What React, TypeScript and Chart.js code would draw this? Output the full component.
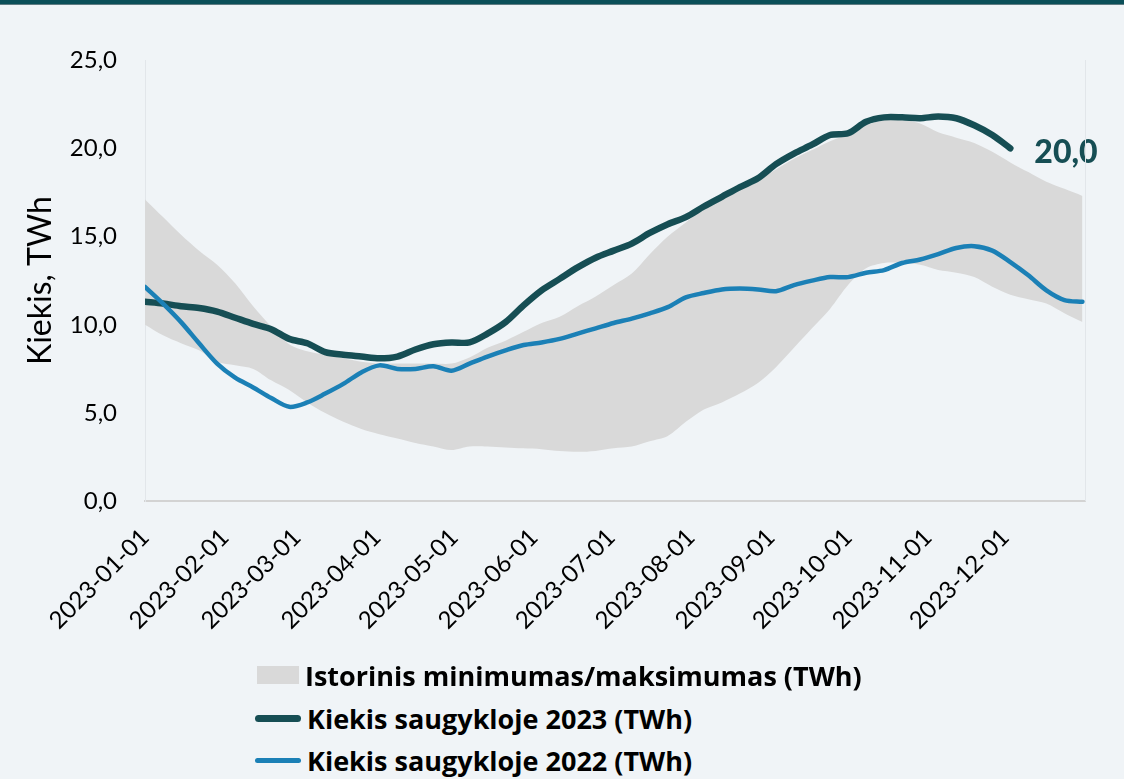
import React, { useEffect, useRef } from "react";
import { Chart, registerables } from "chart.js";

Chart.register(...registerables);

// Day-of-year sample positions (weekly)
const days = [
  0, 7, 14, 21, 28, 35, 42, 49, 56, 63, 70, 77, 84, 91, 98, 105, 112, 119, 126, 133,
  140, 147, 154, 161, 168, 175, 182, 189, 196, 203, 210, 217, 224, 231, 238, 245, 252,
  259, 266, 273, 280, 287, 294, 301, 308, 315, 322, 329, 336, 343, 350, 357, 364,
];

const histMax = [
  17.1, 16.1, 15.1, 14.2, 13.4, 12.35, 11.05, 9.9, 8.9, 8.5, 8.3, 8.1, 7.9, 7.8, 7.8, 7.8,
  7.8, 7.8, 8.15, 8.7, 9.1, 9.6, 10.1, 10.45, 11.05, 11.6, 12.25, 12.9, 14.0, 15.0, 15.8,
  16.6, 17.2, 17.7, 18.2, 18.8, 19.4, 19.9, 20.4, 20.8, 21.3, 21.6, 21.6, 21.4, 20.9, 20.6,
  20.3, 19.8, 19.2, 18.65, 18.1, 17.7, 17.3,
];

const histMin = [
  10.0, 9.4, 8.95, 8.55, 7.9, 7.7, 7.5, 6.85, 6.3, 5.6, 5.0, 4.5, 4.1, 3.8, 3.55, 3.3, 3.1,
  2.9, 3.1, 3.1, 3.05, 3.0, 2.95, 2.85, 2.8, 2.85, 3.0, 3.1, 3.4, 3.7, 4.5, 5.2, 5.6, 6.1,
  6.7, 7.6, 8.7, 9.8, 10.9, 12.25, 13.2, 13.5, 13.5, 13.4, 13.1, 12.95, 12.7, 12.15, 11.7,
  11.45, 11.2, 10.65, 10.15,
];

const storage2023 = [
  11.3, 11.2, 11.05, 10.95, 10.75, 10.4, 10.05, 9.75, 9.2, 8.95, 8.45, 8.3, 8.2, 8.1, 8.2,
  8.6, 8.9, 9.0, 9.0, 9.5, 10.15, 11.1, 11.95, 12.6, 13.25, 13.8, 14.2, 14.6, 15.2, 15.7,
  16.1, 16.7, 17.25, 17.8, 18.3, 19.1, 19.7, 20.2, 20.75, 20.85, 21.5, 21.75, 21.75, 21.7,
  21.8, 21.7, 21.3, 20.75, 20.0, null, null, null, null,
];

const storage2022 = [
  12.15, 11.2, 10.15, 8.95, 7.8, 7.0, 6.45, 5.85, 5.35, 5.6, 6.1, 6.65, 7.3, 7.7, 7.5, 7.5,
  7.65, 7.4, 7.8, 8.2, 8.55, 8.85, 9.0, 9.2, 9.5, 9.8, 10.1, 10.35, 10.65, 11.0, 11.55,
  11.8, 12.0, 12.05, 12.0, 11.9, 12.25, 12.5, 12.7, 12.7, 12.95, 13.1, 13.5, 13.7, 14.0,
  14.35, 14.45, 14.2, 13.55, 12.8, 11.95, 11.4, 11.3,
];

const monthStartDays = [0, 31, 59, 90, 120, 151, 181, 212, 243, 273, 304, 334];
const monthLabels = [
  "2023-01-01", "2023-02-01", "2023-03-01", "2023-04-01", "2023-05-01", "2023-06-01",
  "2023-07-01", "2023-08-01", "2023-09-01", "2023-10-01", "2023-11-01", "2023-12-01",
];

const legendLabels = [
  "Istorinis minimumas/maksimumas (TWh)",
  "Kiekis saugykloje 2023 (TWh)",
  "Kiekis saugykloje 2022 (TWh)",
];

const FONT = "Lato, 'Open Sans', sans-serif";
const LEGEND_FONT = "'Open Sans', Lato, sans-serif";
const DARK = "#164e54";
const BLUE = "#1b80b6";
const BAND = "#d9d9d9";
const BG = "#f0f4f7";

const fmt = (v: number) => v.toFixed(1).replace(".", ",");

const toXY = (arr: (number | null)[]) => arr.map((v, i) => ({ x: days[i], y: v }));

export default function App() {
  const ref = useRef<HTMLCanvasElement | null>(null);

  useEffect(() => {
    document.body.style.margin = "0";
    document.body.style.background = BG;
    const canvas = ref.current!;
    const lastLabel = {
      id: "lastLabel",
      afterDatasetsDraw(chart: any) {
        const meta = chart.getDatasetMeta(1);
        const data = chart.data.datasets[1].data as any[];
        let idx = -1;
        for (let i = data.length - 1; i >= 0; i--) {
          if (data[i] && data[i].y !== null) { idx = i; break; }
        }
        if (idx < 0) return;
        const pt = meta.data[idx];
        const ctx = chart.ctx;
        ctx.save();
        ctx.font = `900 32px ${FONT}`;
        ctx.fillStyle = DARK;
        ctx.textAlign = "left";
        ctx.textBaseline = "middle";
        ctx.fillText(fmt(data[idx].y), pt.x + 24, pt.y + 4);
        ctx.restore();
      },
      afterDraw(chart: any) {
        const { ctx, chartArea } = chart;
        ctx.save();
        ctx.strokeStyle = "#e2e6ea";
        ctx.lineWidth = 1;
        ctx.beginPath();
        ctx.moveTo(chartArea.right + 0.5, chartArea.top);
        ctx.lineTo(chartArea.right + 0.5, chartArea.bottom);
        ctx.stroke();
        ctx.restore();
      },
    };

    const chart = new Chart(canvas, {
      type: "line",
      data: {
        datasets: [
          {
            label: "2022",
            data: toXY(storage2022),
            borderColor: BLUE,
            borderWidth: 4.5,
            pointRadius: 0,
            tension: 0.3,
            borderCapStyle: "round",
            borderJoinStyle: "round",
            fill: false,
            order: 0,
          },
          {
            label: "2023",
            data: toXY(storage2023),
            borderColor: DARK,
            borderWidth: 6.5,
            pointRadius: 0,
            tension: 0.3,
            borderCapStyle: "round",
            borderJoinStyle: "round",
            fill: false,
            spanGaps: false,
            order: 1,
          },
          {
            label: "max",
            data: toXY(histMax),
            borderWidth: 0,
            borderColor: "rgba(0,0,0,0)",
            backgroundColor: BAND,
            pointRadius: 0,
            tension: 0.3,
            fill: "+1",
            order: 2,
          },
          {
            label: "min",
            data: toXY(histMin),
            borderWidth: 0,
            borderColor: "rgba(0,0,0,0)",
            backgroundColor: BAND,
            pointRadius: 0,
            tension: 0.3,
            fill: false,
            order: 3,
          },
        ],
      },
      options: {
        animation: false,
        responsive: false,
        devicePixelRatio: 1,
        layout: { padding: { left: 21, right: 39, top: 60, bottom: 8 } },
        plugins: {
          legend: { display: false },
          tooltip: { enabled: false },
        },
        scales: {
          x: {
            type: "linear",
            min: 0,
            max: 365,
            afterBuildTicks: (scale: any) => {
              scale.ticks = monthStartDays.map((v) => ({ value: v }));
            },
            afterFit: (scale: any) => {
              scale.paddingLeft = 0;
              scale.paddingRight = 0;
            },
            ticks: {
              autoSkip: false,
              maxRotation: 45,
              minRotation: 45,
              padding: 22,
              labelOffset: 0,
              color: "#000",
              font: { family: FONT, size: 24 },
              callback: (v: any) => {
                const i = monthStartDays.indexOf(Number(v));
                return i >= 0 ? monthLabels[i] : "";
              },
            },
            grid: { display: false, drawTicks: false },
            border: { display: true, color: "#d3d3d3", width: 2 },
          },
          y: {
            min: 0,
            max: 25,
            afterFit: (scale: any) => {
              scale.width = 124;
            },
            ticks: {
              stepSize: 5,
              padding: 28,
              color: "#000",
              font: { family: FONT, size: 24 },
              callback: (v: any) => fmt(Number(v)),
            },
            grid: { display: false, drawTicks: false },
            border: { display: true, color: "#e2e6ea", width: 1 },
            title: {
              display: true,
              text: "Kiekis, TWh",
              color: "#000",
              font: { family: FONT, size: 32 },
              padding: { top: 0, bottom: 0 },
            },
          },
        },
      },
      plugins: [lastLabel],
    });
    return () => chart.destroy();
  }, []);

  const row = (top: number) => ({
    position: "absolute" as const,
    left: 0,
    top,
    height: 40,
    display: "flex",
    alignItems: "center",
  });
  const textStyle = {
    fontFamily: LEGEND_FONT,
    fontWeight: 700,
    fontSize: 27,
    color: "#000",
    marginLeft: 6,
    whiteSpace: "nowrap" as const,
  };

  return (
    <div style={{ position: "relative", width: 1124, height: 779, background: BG, overflow: "hidden", fontFamily: FONT }}>
      <div style={{ position: "absolute", left: 0, top: 0, width: 1124, height: 4, background: "#0b4f59", borderBottom: "1px solid #5f7c83" }} />
      <canvas ref={ref} width={1124} height={665} style={{ position: "absolute", left: 0, top: 0 }} />
      <div style={{ position: "absolute", left: 255, top: 0 }}>
        <div style={row(655)}>
          <div style={{ width: 42, height: 18, background: BAND, marginLeft: 2 }} />
          <span style={textStyle}>{legendLabels[0]}</span>
        </div>
        <div style={row(698)}>
          <div style={{ width: 46, height: 7, background: DARK, borderRadius: 4 }} />
          <span style={textStyle}>{legendLabels[1]}</span>
        </div>
        <div style={row(740)}>
          <div style={{ width: 46, height: 5, background: BLUE, borderRadius: 3 }} />
          <span style={textStyle}>{legendLabels[2]}</span>
        </div>
      </div>
    </div>
  );
}
